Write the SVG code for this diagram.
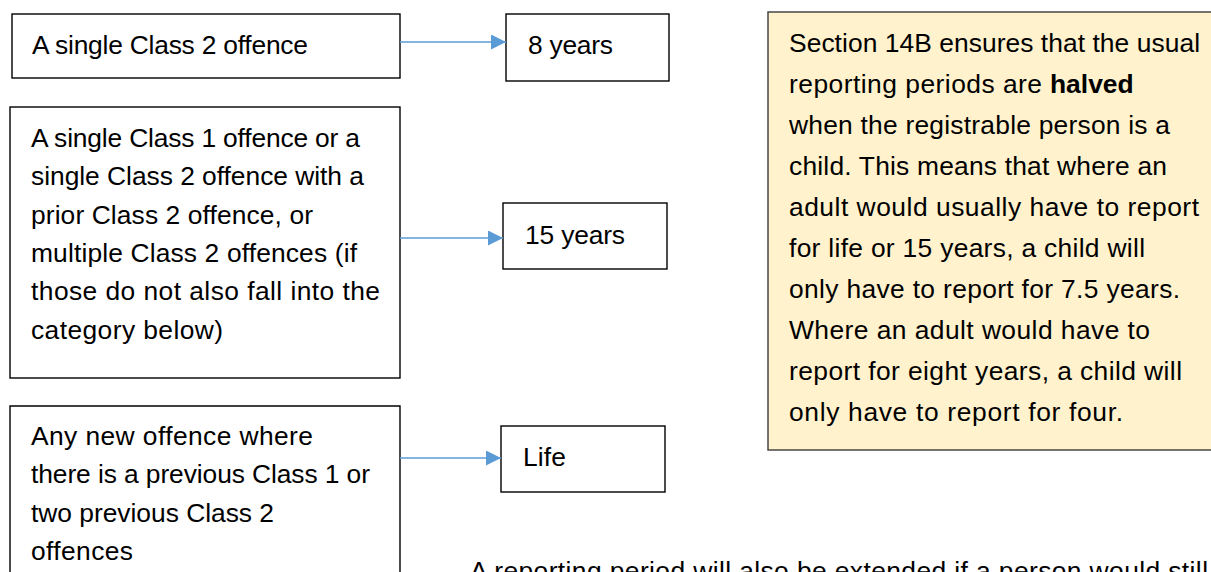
<svg xmlns="http://www.w3.org/2000/svg" width="1211" height="572" viewBox="0 0 1211 572">
<defs>
<style>
.box{fill:#ffffff;stroke:#000000;stroke-width:1.4}
.note{fill:#fff2cc;stroke:#3b3b3b;stroke-width:1.4}
.t{font-family:"Liberation Sans",Arial,sans-serif;font-size:26.4px;fill:#000000}
.b{font-weight:bold}
.conn{stroke:#5b9bd5;stroke-width:1.3;fill:none}
</style>
<marker id="ah" viewBox="0 0 15 15" markerWidth="15" markerHeight="15" refX="15" refY="7.5" orient="auto" markerUnits="userSpaceOnUse">
<path d="M0,0 L15,7.5 L0,15 Z" fill="#5b9bd5"/>
</marker>
</defs>
<rect width="1211" height="572" fill="#ffffff"/>

<g id="n-class2">
<rect class="box" x="12" y="14" width="388" height="64"/>
<text class="t" x="32" y="54" textLength="276" lengthAdjust="spacing">A single Class 2 offence</text>
</g>

<g id="n-8years">
<rect class="box" x="506" y="14" width="163" height="67"/>
<text class="t" x="528" y="54" textLength="85" lengthAdjust="spacing">8 years</text>
</g>

<g id="n-class1">
<rect class="box" x="10" y="107" width="390" height="271"/>
<text class="t" x="31" y="147" textLength="329" lengthAdjust="spacing">A single Class 1 offence or a</text>
<text class="t" x="31" y="185.3" textLength="333" lengthAdjust="spacing">single Class 2 offence with a</text>
<text class="t" x="31" y="223.6" textLength="282" lengthAdjust="spacing">prior Class 2 offence, or</text>
<text class="t" x="31" y="261.9" textLength="326" lengthAdjust="spacing">multiple Class 2 offences (if</text>
<text class="t" x="31" y="300.2" textLength="349" lengthAdjust="spacing">those do not also fall into the</text>
<text class="t" x="31" y="338.5" textLength="192" lengthAdjust="spacing">category below)</text>
</g>

<g id="n-15years">
<rect class="box" x="503" y="203" width="164" height="66"/>
<text class="t" x="525" y="244" textLength="100" lengthAdjust="spacing">15 years</text>
</g>

<g id="n-previous">
<path class="box" d="M10,600 L10,406 L400,406 L400,600"/>
<text class="t" x="31" y="445" textLength="282" lengthAdjust="spacing">Any new offence where</text>
<text class="t" x="31" y="483.3" textLength="339" lengthAdjust="spacing">there is a previous Class 1 or</text>
<text class="t" x="31" y="521.6" textLength="243" lengthAdjust="spacing">two previous Class 2</text>
<text class="t" x="31" y="559.9" textLength="102" lengthAdjust="spacing">offences</text>
</g>

<g id="n-life">
<rect class="box" x="501" y="426" width="164" height="66"/>
<text class="t" x="523" y="466" textLength="43" lengthAdjust="spacing">Life</text>
</g>

<g id="n-note">
<rect class="note" x="768" y="12" width="460" height="438"/>
<text class="t" x="789" y="52" textLength="411" lengthAdjust="spacing">Section 14B ensures that the usual</text>
<text class="t" x="789" y="93" textLength="253" lengthAdjust="spacing">reporting periods are</text>
<text class="t b" x="1050" y="93">halved</text>
<text class="t" x="789" y="134" textLength="381" lengthAdjust="spacing">when the registrable person is a</text>
<text class="t" x="789" y="175" textLength="378" lengthAdjust="spacing">child. This means that where an</text>
<text class="t" x="789" y="216" textLength="410" lengthAdjust="spacing">adult would usually have to report</text>
<text class="t" x="789" y="257" textLength="356" lengthAdjust="spacing">for life or 15 years, a child will</text>
<text class="t" x="789" y="298" textLength="391" lengthAdjust="spacing">only have to report for 7.5 years.</text>
<text class="t" x="789" y="339" textLength="361" lengthAdjust="spacing">Where an adult would have to</text>
<text class="t" x="789" y="380" textLength="393" lengthAdjust="spacing">report for eight years, a child will</text>
<text class="t" x="789" y="421" textLength="334" lengthAdjust="spacing">only have to report for four.</text>
</g>

<g id="bottom-text">
<text class="t" x="470" y="580" textLength="738" lengthAdjust="spacing">A reporting period will also be extended if a person would still</text>
</g>

<g id="connectors">
<line class="conn" x1="400" y1="42" x2="506" y2="42" marker-end="url(#ah)"/>
<line class="conn" x1="400" y1="238" x2="503" y2="238" marker-end="url(#ah)"/>
<line class="conn" x1="400" y1="458" x2="501" y2="458" marker-end="url(#ah)"/>
</g>
</svg>
